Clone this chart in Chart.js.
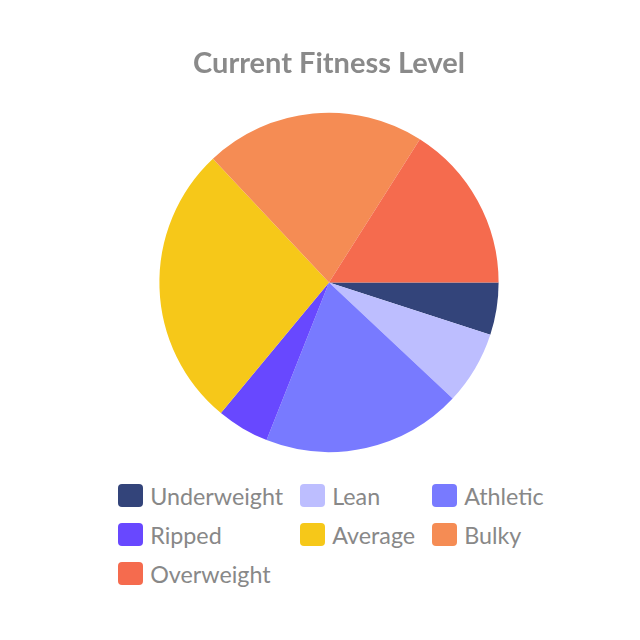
<!DOCTYPE html>
<html>
<head>
<meta charset="utf-8">
<script src="https://cdn.jsdelivr.net/npm/chart.js@4"></script>
<style>
  body { margin: 0; background: #fff; font-family: Lato, sans-serif; }
  .wrap { position: absolute; left: 9px; top: 0; width: 640px; }
  .chart-box { position: relative; width: 640px; height: 470px; }
  #legend {
    display: grid;
    grid-template-columns: repeat(3, max-content);
    column-gap: 17px;
    justify-content: center;
    margin-top: 6px;
    padding-left: 4px;
  }
  .item { display: flex; align-items: center; height: 39px; color: #888; font-size: 23.3px; }
  .swatch { width: 25px; height: 23px; border-radius: 4px; margin-right: 7px; }
</style>
</head>
<body>
<div class="wrap">
  <div class="chart-box"><canvas id="pie-chart"></canvas></div>
  <div id="legend"></div>
</div>
<script>
const labels = ['Underweight', 'Lean', 'Athletic', 'Ripped', 'Average', 'Bulky', 'Overweight'];
const values = [5, 7, 19, 5, 27, 21, 16];
const colors = ['#33447a', '#bdbeff', '#787aff', '#6848ff', '#f6c819', '#f58c54', '#f56b4e'];

const ctx = document.getElementById('pie-chart').getContext('2d');

// html legend, 3 columns like the original
const htmlLegend = {
    id: 'htmlLegend',
    afterUpdate(chart) {
        const box = document.getElementById('legend');
        box.innerHTML = '';
        chart.options.plugins.legend.labels.generateLabels(chart).forEach(item => {
            const el = document.createElement('div');
            el.className = 'item';
            el.innerHTML = '<span class="swatch" style="background:' + item.fillStyle + '"></span>' + item.text;
            box.appendChild(el);
        });
    }
};

let myChart = new Chart(ctx, {
    type: 'pie',
    data: {
        labels: labels,
        datasets: [{
            data: values,
            backgroundColor: colors,
            borderWidth: 0
        }]
    },
    options: {
        responsive: true,
        maintainAspectRatio: false,
        animation: false,
        rotation: 90,
        layout: {
            padding: { bottom: 18 }
        },
        plugins: {
            legend: { display: false },
            tooltip: { enabled: false },
            title: {
                display: true,
                text: 'Current Fitness Level',
                color: '#8a8a8a',
                font: { family: 'Lato', size: 29, weight: 'bold' },
                padding: { top: 46, bottom: 32 }
            }
        }
    },
    plugins: [htmlLegend]
});
</script>
</body>
</html>
